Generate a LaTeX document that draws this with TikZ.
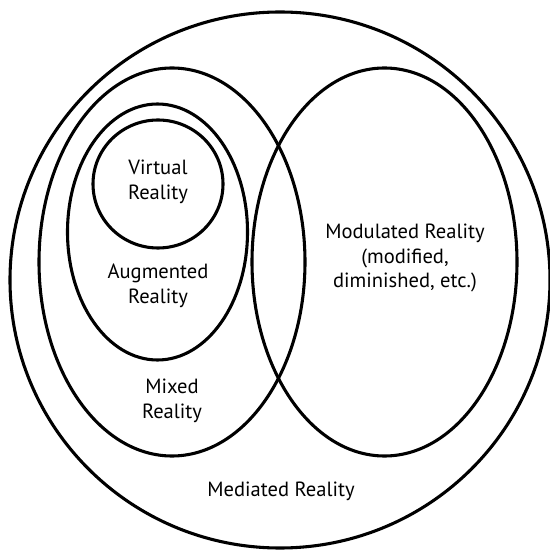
\documentclass[tikz,border=0pt]{standalone}
\usepackage{fontspec}
\setmainfont{PT Sans}
\begin{document}
\begin{tikzpicture}[font=\fontsize{11.7}{14.2}\selectfont, line join=round, line cap=round]
		\useasboundingbox (0,0) rectangle (11,11.08);
		\tikzset{ring/.style={line width=1.75pt,black}, lbl/.style={align=center,inner sep=0pt}}
		% the sets
		\draw[ring] (5.6,5.48) ellipse (5.4 and 5.36);
		\draw[ring] (3.44,5.84) ellipse (2.66 and 3.88);
		\draw[ring] (7.69,5.84) ellipse (2.65 and 3.88);
		\draw[ring] (3.15,6.44) ellipse (1.8 and 2.56);
		\draw[ring] (3.16,7.4) ellipse (1.3 and 1.28);
		% labels
		\node[lbl] (virtual) at (3.16,7.44) {Virtual\\Reality};
		\node[lbl] (augmented) at (3.16,5.36) {Augmented\\Reality};
		\node[lbl] (mixed) at (3.44,3.06) {Mixed\\Reality};
		\node[lbl] (modulated) at (8.1,5.92) {Modulated Reality\\(modified,\\diminished, etc.)};
		\node[lbl] (mediated) at (5.62,1.26) {Mediated Reality};
\end{tikzpicture}
\end{document}
